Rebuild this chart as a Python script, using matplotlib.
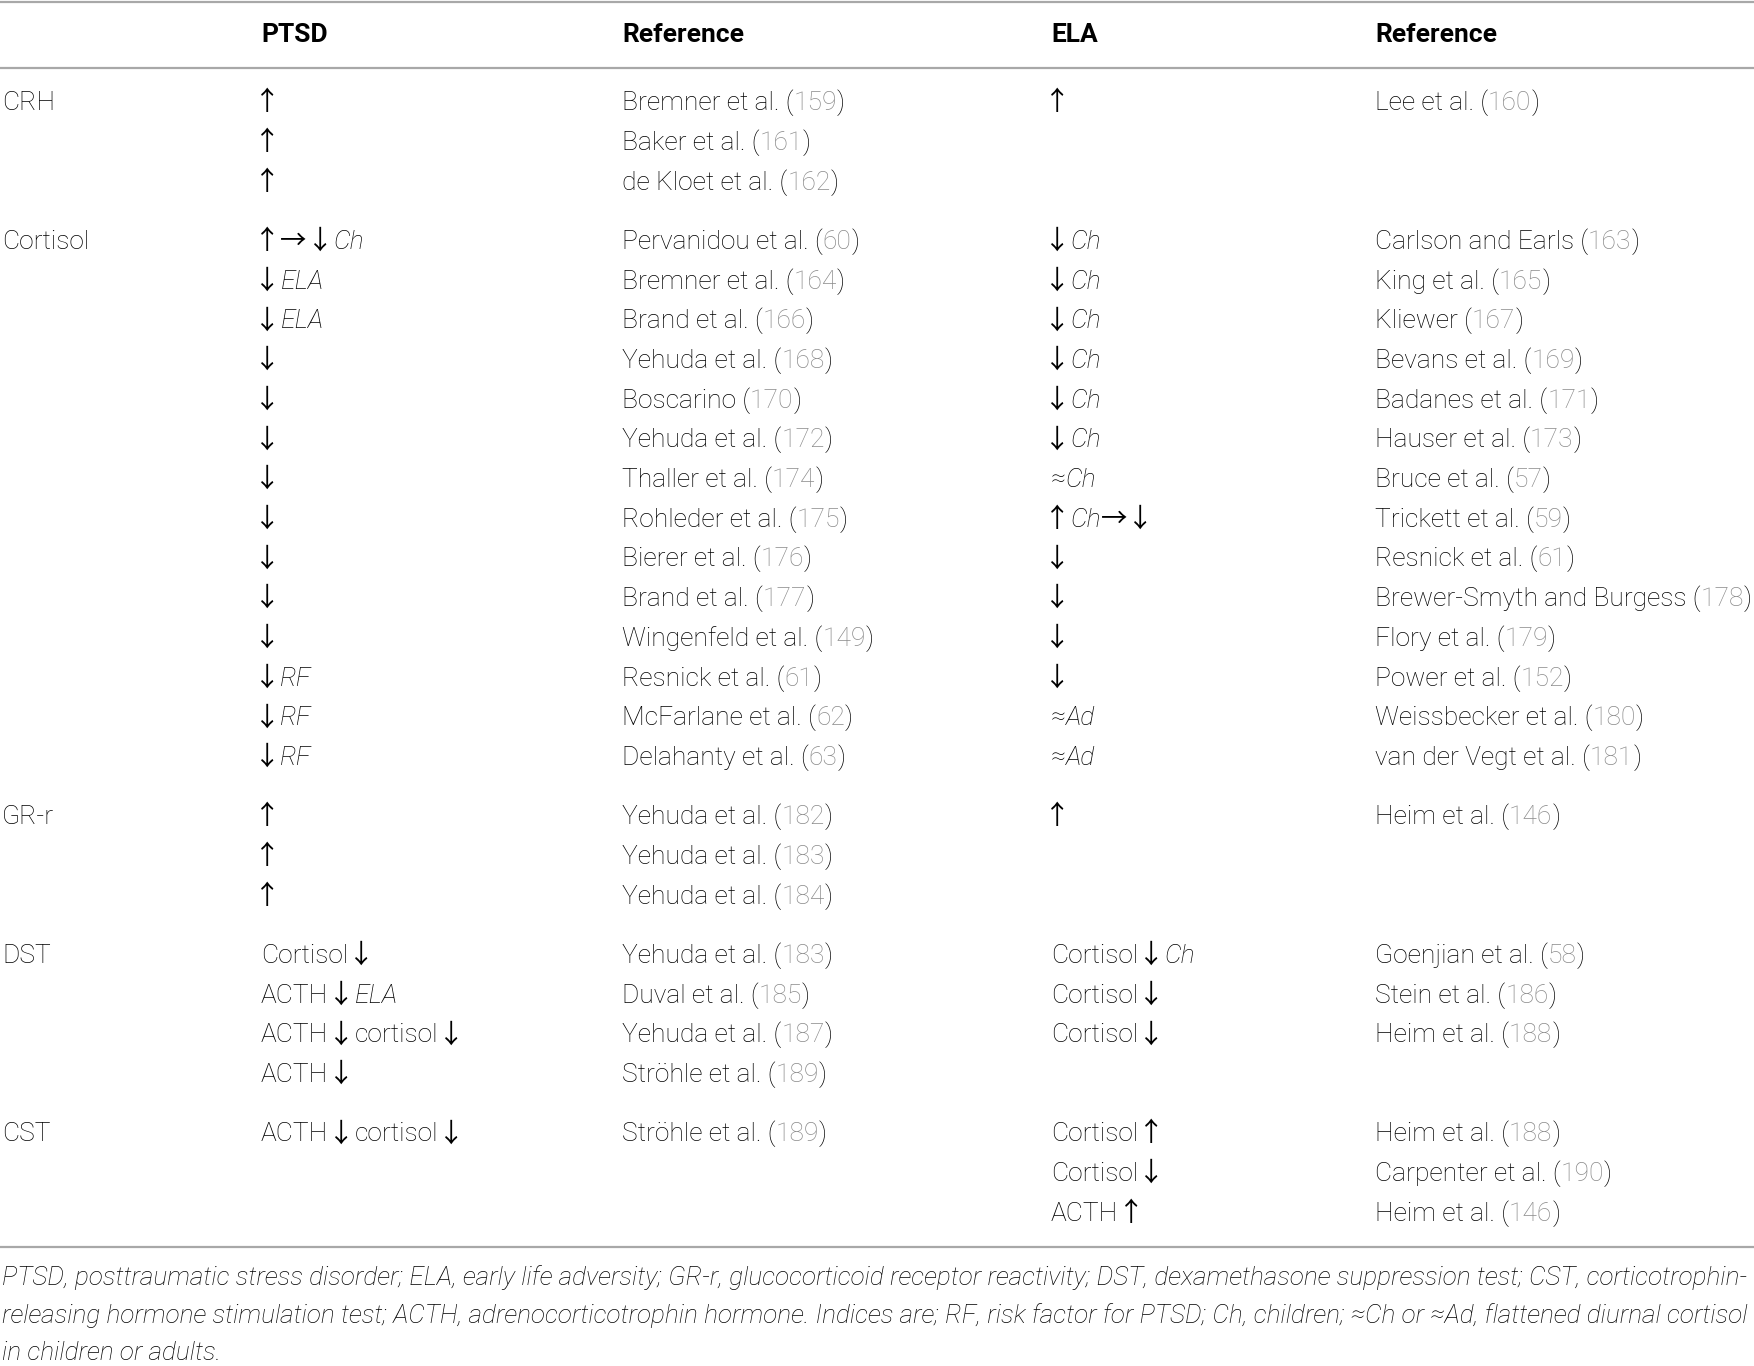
import matplotlib
matplotlib.use('Agg')
import matplotlib.pyplot as plt

# Dados da tabela (texto entre _ fica em itálico)
headers = ['', 'PTSD', 'Reference', 'ELA', 'Reference']
groups = ['CRH', 'Cortisol', 'GR-r', 'DST', 'CST']

ptsd = [
    ['↑', '↑', '↑'],
    ['↑→ ↓ _Ch_', '↓ _ELA_', '↓ _ELA_', '↓', '↓', '↓', '↓', '↓', '↓', '↓', '↓',
     '↓ _RF_', '↓ _RF_', '↓ _RF_'],
    ['↑', '↑', '↑'],
    ['Cortisol ↓', 'ACTH↓ _ELA_', 'ACTH↓ cortisol↓', 'ACTH↓'],
    ['ACTH↓ cortisol↓'],
]
ptsd_refs = [
    [('Bremner et al.', '159'), ('Baker et al.', '161'), ('de Kloet et al.', '162')],
    [('Pervanidou et al.', '60'), ('Bremner et al.', '164'), ('Brand et al.', '166'),
     ('Yehuda et al.', '168'), ('Boscarino', '170'), ('Yehuda et al.', '172'),
     ('Thaller et al.', '174'), ('Rohleder et al.', '175'), ('Bierer et al.', '176'),
     ('Brand et al.', '177'), ('Wingenfeld et al.', '149'), ('Resnick et al.', '61'),
     ('McFarlane et al.', '62'), ('Delahanty et al.', '63')],
    [('Yehuda et al.', '182'), ('Yehuda et al.', '183'), ('Yehuda et al.', '184')],
    [('Yehuda et al.', '183'), ('Duval et al.', '185'), ('Yehuda et al.', '187'),
     ('Ströhle et al.', '189')],
    [('Ströhle et al.', '189')],
]
ela = [
    ['↑'],
    ['↓ _Ch_', '↓ _Ch_', '↓ _Ch_', '↓ _Ch_', '↓ _Ch_', '↓ _Ch_', '≈_Ch_', '↑ _Ch_→ ↓',
     '↓', '↓', '↓', '↓', '≈_Ad_', '≈_Ad_'],
    ['↑'],
    ['Cortisol ↓ _Ch_', 'Cortisol ↓', 'Cortisol ↓'],
    ['Cortisol ↑', 'Cortisol ↓', 'ACTH ↑'],
]
ela_refs = [
    [('Lee et al.', '160')],
    [('Carlson and Earls', '163'), ('King et al.', '165'), ('Kliewer', '167'),
     ('Bevans et al.', '169'), ('Badanes et al.', '171'), ('Hauser et al.', '173'),
     ('Bruce et al.', '57'), ('Trickett et al.', '59'), ('Resnick et al.', '61'),
     ('Brewer-Smyth and Burgess', '178'), ('Flory et al.', '179'), ('Power et al.', '152'),
     ('Weissbecker et al.', '180'), ('van der Vegt et al.', '181')],
    [('Heim et al.', '146')],
    [('Goenjian et al.', '58'), ('Stein et al.', '186'), ('Heim et al.', '188')],
    [('Heim et al.', '188'), ('Carpenter et al.', '190'), ('Heim et al.', '146')],
]
footnote = [
    'PTSD, posttraumatic stress disorder; ELA, early life adversity; GR-r, glucocorticoid '
    'receptor reactivity; DST, dexamethasone suppression test; CST, corticotrophin-',
    'releasing hormone stimulation test; ACTH, adrenocorticotrophin hormone. Indices are; '
    'RF, risk factor for PTSD; Ch, children; ≈Ch or ≈Ad, flattened diurnal cortisol',
    'in children or adults.',
]

# Estilo
fonte = ['Roboto', 'Liberation Sans', 'DejaVu Sans']
fonte_seta = ['Noto Sans CJK JP', 'DejaVu Sans']
plt.rcParams['font.family'] = fonte
tam = 19
cinza = '#8a8a8a'
linha = '#a8a8a8'
col_x = [2, 261, 622, 1051, 1375]
y0, passo, salto = 100.7, 39.7, 59.3
ajuste = 9.5  # centro da linha -> linha de base
setas = '↑↓→'

fig = plt.figure(figsize=(17.54, 13.66), dpi=100)
ax = fig.add_axes([0, 0, 1, 1])
ax.set_xlim(0, 1754)
ax.set_ylim(1366, 0)
ax.axis('off')
rend = fig.canvas.get_renderer()


def escreve(x, y, partes, size=tam):
    # partes: lista de (texto, estilo, cor), colocadas lado a lado
    primeiro = True
    for txt, estilo, cor in partes:
        if not txt:
            continue
        if txt in setas:
            # a seta CJK tem margem larga; no início da célula puxa para a esquerda
            if primeiro:
                x -= 7
            t = ax.text(x, y, txt, fontsize=size, color=cor, family=fonte_seta,
                        va='baseline', ha='left')
        else:
            t = ax.text(x, y, txt, fontsize=size, style=estilo, color=cor, family=fonte,
                        va='baseline', ha='left', fontweight='light')
        x += t.get_window_extent(renderer=rend).width
        primeiro = False


def marca(s):
    partes = []
    for i, p in enumerate(s.split('_')):
        estilo = 'italic' if i % 2 else 'normal'
        buf = ''
        for c in p:
            if c in setas:
                partes.append((buf.rstrip(), estilo, 'black'))
                partes.append((c, 'normal', 'black'))
                buf = ''
            else:
                buf += c
        partes.append((buf, estilo, 'black'))
    # espaço logo depois de uma seta já vem da margem do glifo
    limpas = []
    for k, (t, e, c) in enumerate(partes):
        if limpas and limpas[-1][0] in setas:
            t = t.lstrip()
        if t:
            limpas.append((t, e, c))
    return limpas


def ref(autor, num):
    return [(autor + ' (', 'normal', 'black'), (num, 'normal', cinza), (')', 'normal', 'black')]


# Cabeçalho
for x, h in zip(col_x, headers):
    ax.text(x, 32 + ajuste, h, fontsize=tam, fontweight='bold', va='baseline')
ax.axhline(1.5, color=linha, lw=1.6)
ax.axhline(68, color=linha, lw=1.6)

# Linhas da tabela
y = y0
for g in range(len(groups)):
    n = max(len(ptsd[g]), len(ela[g]))
    ax.text(col_x[0], y + ajuste, groups[g], fontsize=tam, fontweight='light', va='baseline')
    for i in range(n):
        yb = y + i * passo + ajuste
        if i < len(ptsd[g]):
            escreve(col_x[1], yb, marca(ptsd[g][i]))
            escreve(col_x[2], yb, ref(*ptsd_refs[g][i]))
        if i < len(ela[g]):
            escreve(col_x[3], yb, marca(ela[g][i]))
            escreve(col_x[4], yb, ref(*ela_refs[g][i]))
    y += (n - 1) * passo + salto

ax.axhline(1247, color=linha, lw=1.6)

# Nota de rodapé
for k, l in enumerate(footnote):
    ax.text(2, 1285 + k * 37.5, l, fontsize=18.8, style='italic', fontweight='light',
            va='baseline')

fig.savefig('out.png', dpi=100)
